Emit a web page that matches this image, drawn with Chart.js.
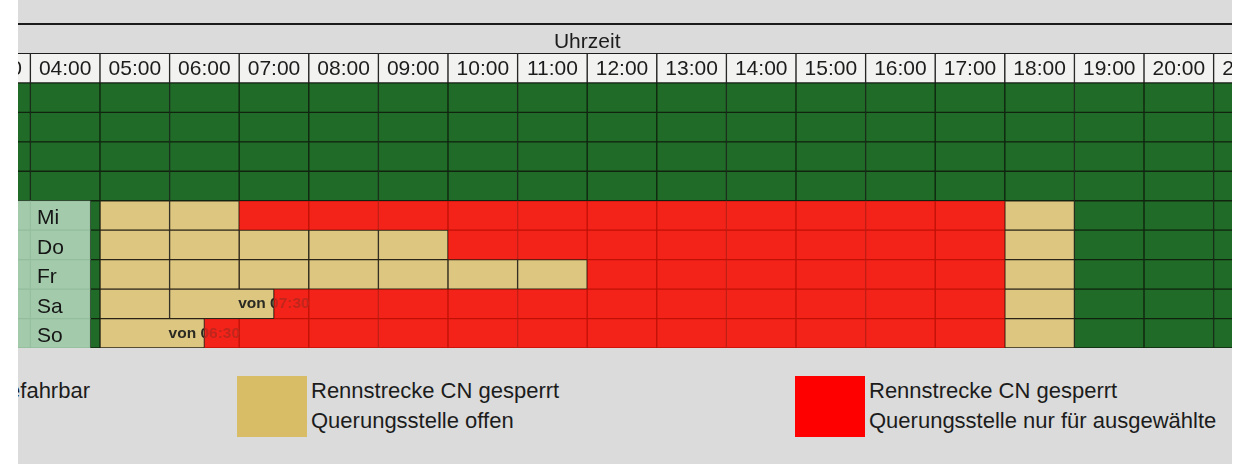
<!DOCTYPE html>
<html lang="de">
<head>
<meta charset="utf-8">
<title>Rennstrecke CN - Querungsstelle</title>
<script src="https://cdn.jsdelivr.net/npm/chart.js@4.4.1/dist/chart.umd.min.js"></script>
<style>
  html, body { margin: 0; padding: 0; background: #fff; }
  body { width: 1248px; height: 464px; overflow: hidden; font-family: "Liberation Sans", Arial, sans-serif; }
  #blatt { position: absolute; left: 18px; top: 0; width: 1214px; height: 464px; background: #dbdbdb; overflow: hidden; }
  #plan { position: absolute; left: 0; top: 0; }
  .eintrag { position: absolute; top: 376px; height: 61px; }
  .feld { position: absolute; left: 0; top: 0; width: 70px; height: 61px; }
  .text { position: absolute; left: 74px; top: 0; font-size: 22px; line-height: 30px; color: #1c1c1c; white-space: nowrap; }
  #l0 { left: -300px; width: 372px; }
  #l0 .text { left: auto; right: 0; }
  #l1 { left: 219px; }
  #l2 { left: 777px; }
</style>
</head>
<body>
<div id="blatt">
  <canvas id="plan" width="1214" height="352"></canvas>
  <div id="legende"></div>
</div>
<script>
// Spalten: Stundenbeginn
var hours = [3, 4, 5, 6, 7, 8, 9, 10, 11, 12, 13, 14, 15, 16, 17, 18, 19, 20, 21];
var hourLabels = ['03:00', '04:00', '05:00', '06:00', '07:00', '08:00', '09:00', '10:00', '11:00', '12:00',
                  '13:00', '14:00', '15:00', '16:00', '17:00', '18:00', '19:00', '20:00', '21:00'];

// Zeilen (Uhrzeit-Kopf, Stunden-Kopf, 4 Tage ohne Sperre, dann Mi..So)
var rows = ['Uhrzeit', 'Std', 'Z1', 'Z2', 'Z3', 'Z4', 'Mi', 'Do', 'Fr', 'Sa', 'So'];
var greenRows = ['Z1', 'Z2', 'Z3', 'Z4'];
var days = ['Mi', 'Do', 'Fr', 'Sa', 'So'];

// Zeiten je Tag
var openFrom   = [5, 5, 5, 5, 5];          // Querungsstelle offen ab
var closedFrom = [7, 10, 12, 7.5, 6.5];    // nur fuer ausgewaehlte ab
var closedTo   = [18, 18, 18, 18, 18];
var openTo     = [19, 19, 19, 19, 19];

var headerSpan = [0, 24];                  // Zelle "Uhrzeit" ueber den ganzen Tag
var noteRows = ['Sa', 'So'];
var noteFrom = [7, 6];
var noteText = ['von 07:30', 'von 06:30'];

var legendLines = [
  ['befahrbar'],
  ['Rennstrecke CN gesperrt', 'Querungsstelle offen'],
  ['Rennstrecke CN gesperrt', 'Querungsstelle nur f\u00fcr ausgew\u00e4hlte']
];
var legendColors = ['#1f6b27', '#d9bd66', '#ff0000'];

var labelColEnd = 4.86;
var firstHour = hours[0];
var lastHour = hours[hours.length - 1] + 1;

// Stundenzellen; eine halbe Stunde am Ende wird mit der Zelle davor verbunden
function splitHours(from, to) {
  var cells = [];
  var s = from;
  while (s < to) {
    var e = Math.min(Math.floor(s) + 1, to);
    cells.push([s, e]);
    s = e;
  }
  if (cells.length > 1 && cells[cells.length - 1][1] - cells[cells.length - 1][0] < 1) {
    var last = cells.pop();
    cells[cells.length - 1][1] = last[1];
  }
  return cells;
}

var headerCells = [], labelCells = [], greenCells = [], openCells = [], closedCells = [];

hours.forEach(function(h) { headerCells.push({x: [h, h + 1], y: 'Std'}); });

greenRows.forEach(function(r) {
  splitHours(firstHour, lastHour).forEach(function(c) { greenCells.push({x: c, y: r}); });
});

days.forEach(function(d, i) {
  labelCells.push({x: [firstHour, 4], y: d}, {x: [4, labelColEnd], y: d});
  greenCells.push({x: [labelColEnd, openFrom[i]], y: d});
  splitHours(openFrom[i], closedFrom[i]).forEach(function(c) { openCells.push({x: c, y: d}); });
  splitHours(closedFrom[i], closedTo[i]).forEach(function(c) { closedCells.push({x: c, y: d}); });
  splitHours(closedTo[i], openTo[i]).forEach(function(c) { openCells.push({x: c, y: d}); });
  splitHours(openTo[i], lastHour).forEach(function(c) { greenCells.push({x: c, y: d}); });
});

// Achsen sollen keinen Platz belegen, die Beschriftung steht in den Zellen
function noSpace(s) {
  if (s.isHorizontal()) s.height = 0; else s.width = 0;
  s.paddingLeft = 0; s.paddingRight = 0; s.paddingTop = 0; s.paddingBottom = 0;
}

// Texte in Zellen (Uhrzeit, "von ...")
var zellText = {
  id: 'zellText',
  afterDatasetsDraw: function(chart) {
    var ctx = chart.ctx, area = chart.chartArea;
    var x = chart.scales.x, y = chart.scales.y;
    ctx.save();
    ctx.beginPath();
    ctx.rect(area.left, area.top, area.right - area.left, area.bottom - area.top);
    ctx.clip();

    ctx.font = '21px "Liberation Sans", Arial, sans-serif';
    ctx.fillStyle = '#1c1c1c';
    ctx.textAlign = 'center';
    ctx.textBaseline = 'middle';
    ctx.fillText('Uhrzeit', x.getPixelForValue((headerSpan[0] + headerSpan[1]) / 2),
                 y.getPixelForValue(rows.indexOf('Uhrzeit')) + 3);

    ctx.font = 'bold 15.5px "Liberation Sans", Arial, sans-serif';
    ctx.textAlign = 'left';
    noteRows.forEach(function(r, i) {
      var px = x.getPixelForValue(noteFrom[i]) - 1;
      var py = y.getPixelForValue(rows.indexOf(r));
      var split = x.getPixelForValue(closedFrom[days.indexOf(r)]);
      ctx.save();
      ctx.beginPath(); ctx.rect(area.left, py - 15, split - area.left, 30); ctx.clip();
      ctx.fillStyle = '#2a2a22';
      ctx.fillText(noteText[i], px, py);
      ctx.restore();
      ctx.save();
      ctx.beginPath(); ctx.rect(split, py - 15, area.right - split, 30); ctx.clip();
      ctx.fillStyle = '#c0261c';
      ctx.fillText(noteText[i], px, py);
      ctx.restore();
    });
    ctx.restore();
  }
};

var ctx = document.getElementById('plan').getContext('2d');
var chart = new Chart(ctx, {
  type: 'bar',
  data: {
    datasets: [
      {label: 'Stunde', data: headerCells, backgroundColor: '#f2f2f0', borderColor: '#1d1d1d'},
      {label: 'Tag', data: labelCells, backgroundColor: '#a3cbab', borderColor: '#93bd9d'},
      {label: 'befahrbar', data: greenCells, backgroundColor: '#1f6b27', borderColor: '#10240f'},
      {label: 'offen', data: openCells, backgroundColor: '#dcc680', borderColor: '#2b2418'},
      {label: 'gesperrt', data: closedCells, backgroundColor: '#f3231a', borderColor: '#c01208'}
    ]
  },
  options: {
    indexAxis: 'y',
    responsive: false,
    animation: false,
    layout: {padding: {top: 24, bottom: 4, left: 0, right: 0}},
    datasets: {
      bar: {categoryPercentage: 1, barPercentage: 1, grouped: false, borderSkipped: false, borderWidth: 1}
    },
    plugins: {legend: {display: false}, tooltip: {enabled: false}},
    scales: {
      x: {
        type: 'linear',
        position: 'top',
        min: 3.822,
        max: 21.264,
        grid: {display: false},
        border: {display: true, color: '#1b1b1b', width: 2},
        afterBuildTicks: function(s) { s.ticks = hours.map(function(h) { return {value: h + 0.5}; }); },
        afterFit: noSpace,
        ticks: {
          mirror: true, z: 1, padding: 35, autoSkip: false, maxRotation: 0,
          color: '#1c1c1c',
          font: {family: '"Liberation Sans", Arial, sans-serif', size: 21, lineHeight: 1},
          callback: function(v, i) { return hourLabels[i]; }
        }
      },
      y: {
        type: 'category',
        labels: rows,
        offset: true,
        grid: {display: false},
        border: {display: false},
        afterFit: noSpace,
        ticks: {
          mirror: true, z: 1, padding: 19, labelOffset: 3, autoSkip: false,
          color: '#151515',
          font: {family: '"Liberation Sans", Arial, sans-serif', size: 21},
          callback: function(v, i) { return days.indexOf(rows[i]) >= 0 ? rows[i] : ''; }
        }
      }
    }
  },
  plugins: [zellText]
});

// Legende unter der Tabelle
var legende = document.getElementById('legende');
legendLines.forEach(function(lines, i) {
  var item = document.createElement('div');
  item.className = 'eintrag';
  item.id = 'l' + i;
  var feld = document.createElement('div');
  feld.className = 'feld';
  feld.style.background = legendColors[i];
  var text = document.createElement('div');
  text.className = 'text';
  text.innerHTML = lines.join('<br>');
  item.appendChild(feld);
  item.appendChild(text);
  legende.appendChild(item);
});
</script>
</body>
</html>
